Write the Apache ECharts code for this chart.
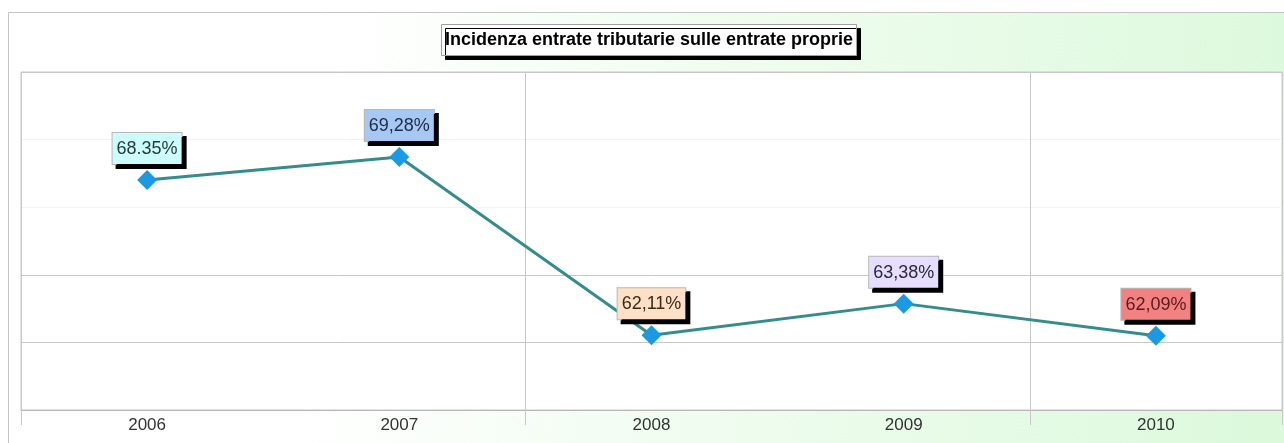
<!DOCTYPE html>
<html>
<head>
<meta charset="utf-8">
<script src="https://cdn.jsdelivr.net/npm/echarts@6/dist/echarts.min.js"></script>
<style>
html,body{margin:0;padding:0;background:#fff;}
#chart{width:1284px;height:443px;}
</style>
</head>
<body>
<div id="chart"></div>
<script>
const titleText = 'Incidenza entrate tributarie sulle entrate proprie';
const categories = ['2006', '2007', '2008', '2009', '2010'];
const values = [68.35, 69.28, 62.11, 63.38, 62.09];
const valueLabels = ['68.35%', '69,28%', '62,11%', '63,38%', '62,09%'];
const labelColors = ['#ccfdfd', '#a6c8f2', '#fde0c6', '#e6defc', '#f28282'];
const labelTextColors = ['#2a3a3a', '#1e2a4a', '#3a2a1a', '#2a2a3a', '#5a1a1a'];

const chart = echarts.init(document.getElementById('chart'), null, {renderer: 'canvas'});

const data = values.map((v, i) => ({
  value: v,
  label: {
    formatter: valueLabels[i],
    backgroundColor: labelColors[i],
    color: labelTextColors[i]
  }
}));

chart.setOption({
  animation: false,
  backgroundColor: '#ffffff',
  graphic: [{
    type: 'rect',
    z: -10,
    silent: true,
    shape: {x: 8.5, y: 12.5, width: 1290, height: 450},
    style: {
      fill: new echarts.graphic.LinearGradient(0, 0, 1, 0.3, [
        {offset: 0, color: '#ffffff'},
        {offset: 0.25, color: '#ffffff'},
        {offset: 0.6, color: '#eefcee'},
        {offset: 1, color: '#dcf9dc'}
      ]),
      stroke: '#c4c4c4',
      lineWidth: 1
    }
  }],
  title: {
    text: titleText,
    left: 441,
    top: 24,
    padding: [7, 4, 7, 4],
    backgroundColor: '#ffffff',
    borderColor: '#a0a0a0',
    borderWidth: 1,
    shadowColor: '#000000',
    shadowOffsetX: 4,
    shadowOffsetY: 4,
    shadowBlur: 0,
    textStyle: {
      fontFamily: 'Liberation Sans, Arial, sans-serif',
      fontSize: 18,
      fontWeight: 'bold',
      color: '#000000'
    }
  },
  grid: {
    left: 21,
    right: 2,
    top: 72,
    bottom: 33,
    show: true,
    backgroundColor: '#ffffff',
    borderColor: '#c8c8c8',
    borderWidth: 1
  },
  xAxis: {
    type: 'category',
    data: categories,
    boundaryGap: true,
    axisLine: {show: true, lineStyle: {color: '#b8b8b8', width: 1}},
    axisTick: {show: true, interval: 1, length: 15, lineStyle: {color: '#c8c8c8'}},
    splitLine: {show: true, interval: 1, lineStyle: {color: '#c8c8c8', width: 1}},
    axisLabel: {
      margin: 7,
      fontFamily: 'Liberation Sans, Arial, sans-serif',
      fontSize: 17,
      color: '#333333'
    }
  },
  yAxis: {
    type: 'value',
    min: 59.1,
    max: 72.7,
    interval: 2.72,
    axisLine: {show: false},
    axisTick: {show: false},
    axisLabel: {show: false},
    splitLine: {
      show: true,
      lineStyle: {
        color: ['#c8c8c8', '#c8c8c8', '#c8c8c8', '#f3f3f3', '#f3f3f3', '#c8c8c8'],
        width: 1
      }
    }
  },
  series: [{
    type: 'line',
    data: data,
    symbol: 'diamond',
    symbolSize: 20,
    itemStyle: {color: '#1a9ae4'},
    lineStyle: {color: '#348d8b', width: 3},
    label: {
      show: true,
      position: 'top',
      distance: 6,
      fontFamily: 'Liberation Sans, Arial, sans-serif',
      fontSize: 18,
      color: '#333333',
      padding: [7, 4, 6, 4],
      borderColor: '#b8b8b8',
      borderWidth: 1,
      shadowColor: '#000000',
      shadowOffsetX: 4,
      shadowOffsetY: 4,
      shadowBlur: 0
    },
    z: 3
  }]
});
</script>
</body>
</html>
